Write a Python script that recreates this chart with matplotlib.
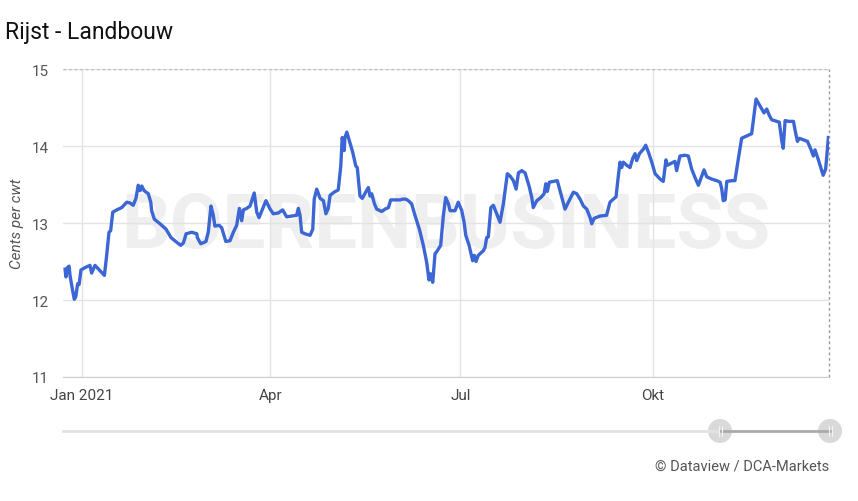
"""Rijst - Landbouw: rice futures price line chart (cents per cwt), 2021."""

import matplotlib

matplotlib.use("Agg")
import matplotlib.pyplot as plt
import pandas as pd
from matplotlib.patches import Circle

plt.rcParams["font.family"] = ["Roboto", "DejaVu Sans"]

# days after 2021-01-01 and price in cents per cwt
days = [
    -8.1, -7.7, -7.0, -6.2, -5.7, -4.6, -3.7, -3.0, -2.1, -1.4, -0.5, 1.4, 3.8,
    4.6, 6.2, 8.6, 10.7, 11.8, 12.9, 13.7, 14.7, 16.6, 19.0, 21.4, 23.0, 24.5,
    25.8, 26.9, 27.8, 28.6, 29.7, 31.7, 32.9, 33.3, 34.6, 37.3, 40.2, 42.6,
    45.3, 47.2, 48.5, 49.8, 52.5, 54.9, 55.2, 56.8, 59.3, 60.4, 61.7, 62.8,
    63.6, 65.6, 66.8, 68.8, 70.8, 72.4, 74.0, 75.3, 76.4, 77.2, 78.8, 80.4,
    82.4, 83.6, 84.7, 86.5, 88.0, 90.0, 91.5, 93.9, 96.0, 97.9, 100.3, 102.7,
    103.5, 104.3, 105.1, 106.7, 109.1, 110.4, 111.1, 112.3, 113.9, 115.5,
    116.7, 117.8, 118.7, 120.6, 122.6, 123.8, 124.5, 125.4, 125.8, 126.7,
    127.9, 129.5, 131.0, 131.7, 133.0, 134.1, 135.7, 137.0, 137.8, 138.6,
    139.9, 141.0, 143.4, 145.0, 146.6, 147.7, 149.8, 152.2, 153.4, 155.0,
    156.1, 157.7, 159.3, 161.4, 163.3, 164.9, 166.0, 166.8, 167.8, 168.9,
    170.0, 171.6, 172.9, 174.0, 175.3, 176.1, 178.5, 180.0, 181.7, 182.8,
    183.6, 185.2, 186.9, 187.7, 188.5, 189.6, 192.0, 192.8, 193.6, 194.4,
    195.6, 196.8, 198.4, 200.0, 201.6, 203.5, 204.8, 206.4, 207.7, 208.8,
    210.4, 212.0, 213.9, 215.2, 215.9, 217.6, 219.5, 221.1, 221.9, 222.6,
    223.6, 225.5, 227.4, 228.7, 230.3, 231.1, 232.7, 235.1, 236.7, 238.3,
    239.9, 241.5, 243.1, 243.9, 245.0, 247.8, 251.0, 252.6, 254.2, 255.5,
    256.6, 257.4, 258.2, 259.0, 260.6, 262.2, 263.5, 264.6, 265.4, 266.7,
    268.6, 269.7, 271.0, 272.6, 274.2, 276.6, 278.1, 279.4, 280.0, 282.2,
    283.7, 284.5, 286.1, 288.5, 290.1, 291.7, 293.3, 294.9, 296.5, 297.6,
    298.9, 301.3, 303.7, 305.3, 306.1, 306.8, 307.7, 308.5, 310.9, 312.4,
    314.0, 315.6, 318.0, 320.4, 322.5, 324.4, 326.3, 327.6, 328.8, 330.0,
    332.4, 333.6, 334.8, 335.5, 336.4, 338.0, 340.4, 341.2, 342.3, 343.2,
    345.1, 347.1, 348.7, 349.9, 350.7, 352.2, 354.6, 355.8, 357.1,
]
price = [
    12.40, 12.30, 12.42, 12.44, 12.31, 12.14, 12.01, 12.04, 12.21, 12.20, 12.39,
    12.42, 12.45, 12.35, 12.45, 12.38, 12.32, 12.58, 12.88, 12.90, 13.14, 13.17,
    13.20, 13.27, 13.26, 13.23, 13.32, 13.49, 13.42, 13.48, 13.42, 13.38, 13.27,
    13.16, 13.05, 12.99, 12.92, 12.81, 12.75, 12.71, 12.74, 12.86, 12.88, 12.86,
    12.81, 12.73, 12.76, 12.88, 13.22, 13.10, 12.96, 12.97, 12.94, 12.76, 12.77,
    12.88, 12.97, 13.19, 13.03, 13.17, 13.19, 13.22, 13.39, 13.14, 13.07, 13.19,
    13.29, 13.18, 13.12, 13.13, 13.17, 13.08, 13.09, 13.10, 13.19, 13.10, 12.88,
    12.86, 12.84, 12.92, 13.31, 13.44, 13.32, 13.29, 13.12, 13.19, 13.36, 13.40,
    13.43, 13.74, 14.11, 13.94, 14.11, 14.18, 14.07, 13.92, 13.74, 13.72, 13.35,
    13.32, 13.40, 13.46, 13.35, 13.38, 13.25, 13.18, 13.15, 13.18, 13.20, 13.30,
    13.30, 13.30, 13.31, 13.31, 13.29, 13.25, 13.10, 12.92, 12.71, 12.49, 12.26,
    12.34, 12.23, 12.60, 12.64, 12.71, 13.10, 13.33, 13.25, 13.16, 13.16, 13.27,
    13.16, 13.01, 12.84, 12.71, 12.51, 12.58, 12.50, 12.58, 12.64, 12.68, 12.81,
    12.82, 13.20, 13.23, 13.12, 13.01, 13.25, 13.64, 13.61, 13.55, 13.44, 13.65,
    13.68, 13.65, 13.48, 13.33, 13.20, 13.29, 13.33, 13.38, 13.51, 13.41, 13.53,
    13.54, 13.55, 13.42, 13.26, 13.18, 13.27, 13.40, 13.38, 13.31, 13.22, 13.18,
    13.07, 12.99, 13.06, 13.09, 13.10, 13.27, 13.31, 13.34, 13.61, 13.79, 13.72,
    13.79, 13.75, 13.72, 13.84, 13.90, 13.81, 13.90, 13.96, 14.01, 13.92, 13.79,
    13.64, 13.57, 13.54, 13.82, 13.75, 13.78, 13.80, 13.68, 13.87, 13.88, 13.87,
    13.70, 13.59, 13.49, 13.61, 13.69, 13.60, 13.57, 13.55, 13.53, 13.44, 13.29,
    13.30, 13.54, 13.55, 13.55, 13.83, 14.10, 14.13, 14.16, 14.61, 14.52, 14.43,
    14.48, 14.40, 14.34, 14.32, 14.31, 14.07, 13.97, 14.33, 14.32, 14.32, 14.20,
    14.06, 14.10, 14.08, 14.06, 13.96, 13.87, 13.95, 13.83, 13.62, 13.70, 14.11,
]
y_ticks = [11, 12, 13, 14, 15]
x_ticks = ["2021-01-01", "2021-04-01", "2021-07-01", "2021-10-01"]
x_labels = ["Jan 2021", "Apr", "Jul", "Okt"]

START = pd.Timestamp("2021-01-01")
dates = START + pd.to_timedelta(days, unit="D")

W, H = 858, 502
fig = plt.figure(figsize=(W / 100, H / 100), dpi=100)
ax = fig.add_axes([63 / W, 1 - 378 / H, (829 - 63) / W, (378 - 70) / H])

ax.set_xlim(START - pd.Timedelta(days=9.1), START + pd.Timedelta(days=357.4))
ax.set_ylim(11, 15)

# watermark behind the line
ax.text(0.50, 0.49, "BOERENBUSINESS", transform=ax.transAxes, ha="center",
        va="center", fontsize=55, fontweight="bold", color="#efefef",
        zorder=0)

ax.plot(dates, price, color="#3b66d4", lw=2.4, zorder=3,
        solid_joinstyle="round")

ax.set_yticks(y_ticks)
ax.set_xticks(pd.to_datetime(x_ticks))
ax.set_xticklabels(x_labels)
ax.grid(True, color="#e3e3e3", lw=1, zorder=1)
for s in ("left", "right", "top"):
    ax.spines[s].set_visible(False)
ax.spines["bottom"].set_color("#cccccc")
ax.axhline(15, color="#bbbbbb", lw=1, ls=(0, (2, 2)), zorder=2)
ax.plot([1, 1], [0, 1], transform=ax.transAxes, color="#999999", lw=1,
        ls=(0, (2, 2)), clip_on=False, zorder=2)
ax.tick_params(axis="both", length=0, labelsize=11, labelcolor="#555555")
ax.tick_params(axis="x", pad=8, labelcolor="#444444")
ax.tick_params(axis="y", pad=10)
ax.set_ylabel("Cents per cwt", style="italic", fontsize=11, color="#555555",
              labelpad=6)

fig.text(5 / W, 1 - 33 / H, "Rijst - Landbouw", fontsize=16.5, color="#111111",
         va="center", ha="left")
fig.text(829 / W, 1 - 467 / H, "© Dataview / DCA-Markets", fontsize=10.5,
         color="#555555", va="center", ha="right")

# navigator / scrollbar below the plot
nav = fig.add_axes([0, 0, 1, 1], zorder=5)
nav.set_xlim(0, W)
nav.set_ylim(H, 0)
nav.axis("off")
nav.plot([63, 720], [432, 432], color="#e2e2e2", lw=2)
nav.plot([720, 830], [432, 432], color="#aaaaaa", lw=2)
for cx in (720, 830):
    nav.add_patch(Circle((cx, 432), 12, color="#d9d9d9", lw=0))
    for dx in (-1.5, 1.5):
        nav.plot([cx + dx, cx + dx], [427, 437], color="#f4f4f4", lw=0.8)

fig.savefig("out.png", dpi=100)
